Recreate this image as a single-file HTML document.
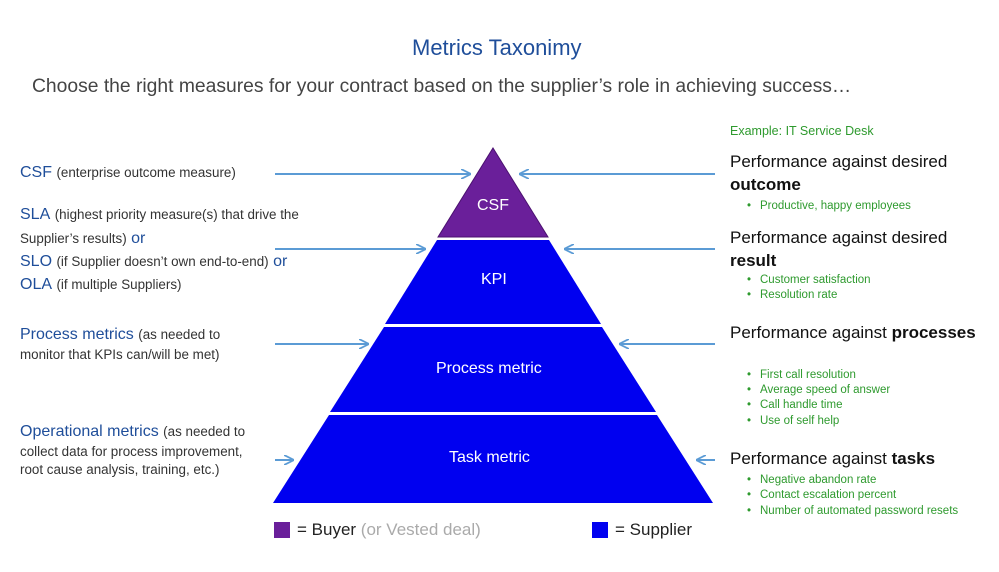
<!DOCTYPE html>
<html><head><meta charset="utf-8"><style>
body{margin:0;width:999px;height:572px;background:#fff;position:relative;overflow:hidden;font-family:"Liberation Sans",sans-serif}
.t{position:absolute;white-space:nowrap}
.b{color:#1f4e9a}
.s{font-size:13.4px;color:#333}
.g{color:#2e9a2e;font-size:11px}
.h{font-size:17px;color:#111}
.li{position:absolute;white-space:nowrap;color:#2e9a2e;font-size:11.5px}
.li:before{content:"•";position:absolute;left:-13px}
</style></head><body>
<svg width="999" height="572" style="position:absolute;left:0;top:0">
<defs><marker id="a" markerWidth="10" markerHeight="10" refX="9" refY="5" orient="auto" markerUnits="userSpaceOnUse"><path d="M0,0 L10,5 L0,10" fill="none" stroke="#5b9bd5" stroke-width="1.8"/></marker></defs>
<polygon points="493,148 548,237 438,237" fill="#6a1f9a" stroke="#4b1170"/>
<polygon points="437,240 549,240 601,324 385,324" fill="#0000f0"/>
<polygon points="384,327 602,327 656,412 330,412" fill="#0000f0"/>
<polygon points="329,415 657,415 713,503 273,503" fill="#0000f0"/>
<g stroke="#5b9bd5" stroke-width="2" marker-end="url(#a)">
<line x1="275" y1="174" x2="470" y2="174"/><line x1="715" y1="174" x2="520" y2="174"/>
<line x1="275" y1="249" x2="425" y2="249"/><line x1="715" y1="249" x2="565" y2="249"/>
<line x1="275" y1="344" x2="368" y2="344"/><line x1="715" y1="344" x2="620" y2="344"/>
<line x1="275" y1="460" x2="293" y2="460"/><line x1="715" y1="460" x2="697" y2="460"/>
</g>
<rect x="274" y="522" width="16" height="16" fill="#6a1f9a"/>
<rect x="592" y="522" width="16" height="16" fill="#0000f0"/>
</svg>
<div class="t b" style="left:412px;top:35px;font-size:22px">Metrics Taxonimy</div>
<div class="t" style="left:32px;top:76px;font-size:19.3px;color:#444">Choose the right measures for your contract based on the supplier’s role in achieving success…</div>
<div class="t" style="left:477px;top:197px;font-size:16px;color:#fff">CSF</div>
<div class="t" style="left:481px;top:271px;font-size:16px;color:#fff">KPI</div>
<div class="t" style="left:436px;top:360px;font-size:16px;color:#fff">Process metric</div>
<div class="t" style="left:449px;top:449px;font-size:16px;color:#fff">Task metric</div>
<div class="t" style="left:297px;top:520px;font-size:17px;color:#222">= Buyer <span style="color:#aaa">(or Vested deal)</span></div>
<div class="t" style="left:615px;top:520px;font-size:17px;color:#222">= Supplier</div>
<div class="t" style="left:20px;top:164px"><span class="b" style="font-size:16px">CSF</span> <span class="s">(enterprise outcome measure)</span></div>
<div class="t" style="left:20px;top:206px"><span class="b" style="font-size:16px">SLA</span> <span class="s">(highest priority measure(s) that drive the</span></div>
<div class="t" style="left:20px;top:230px"><span class="s">Supplier’s results)</span> <span class="b" style="font-size:16px">or</span></div>
<div class="t" style="left:20px;top:253px"><span class="b" style="font-size:16px">SLO</span> <span class="s">(if Supplier doesn’t own end-to-end)</span> <span class="b" style="font-size:16px">or</span></div>
<div class="t" style="left:20px;top:276px"><span class="b" style="font-size:16px">OLA</span> <span class="s">(if multiple Suppliers)</span></div>
<div class="t" style="left:20px;top:326px"><span class="b" style="font-size:16px">Process metrics</span> <span class="s">(as needed to</span></div>
<div class="t s" style="left:20px;top:347px">monitor that KPIs can/will be met)</div>
<div class="t" style="left:20px;top:423px"><span class="b" style="font-size:16px">Operational metrics</span> <span class="s">(as needed to</span></div>
<div class="t s" style="left:20px;top:444px">collect data for process improvement,</div>
<div class="t s" style="left:20px;top:462px">root cause analysis, training, etc.)</div>
<div class="t g" style="left:730px;top:124px;font-size:12.5px">Example: IT Service Desk</div>
<div class="t h" style="left:730px;top:152px">Performance against desired</div>
<div class="t h" style="left:730px;top:175px;font-weight:bold">outcome</div>
<div class="li" style="left:760px;top:200px">Productive, happy employees</div>
<div class="t h" style="left:730px;top:228px">Performance against desired</div>
<div class="t h" style="left:730px;top:251px;font-weight:bold">result</div>
<div class="li" style="left:760px;top:274px">Customer satisfaction</div>
<div class="li" style="left:760px;top:289px">Resolution rate</div>
<div class="t h" style="left:730px;top:323px">Performance against <b>processes</b></div>
<div class="li" style="left:760px;top:369px">First call resolution</div>
<div class="li" style="left:760px;top:384px">Average speed of answer</div>
<div class="li" style="left:760px;top:399px">Call handle time</div>
<div class="li" style="left:760px;top:415px">Use of self help</div>
<div class="t h" style="left:730px;top:449px">Performance against <b>tasks</b></div>
<div class="li" style="left:760px;top:474px">Negative abandon rate</div>
<div class="li" style="left:760px;top:489px">Contact escalation percent</div>
<div class="li" style="left:760px;top:505px">Number of automated password resets</div>
</body></html>
